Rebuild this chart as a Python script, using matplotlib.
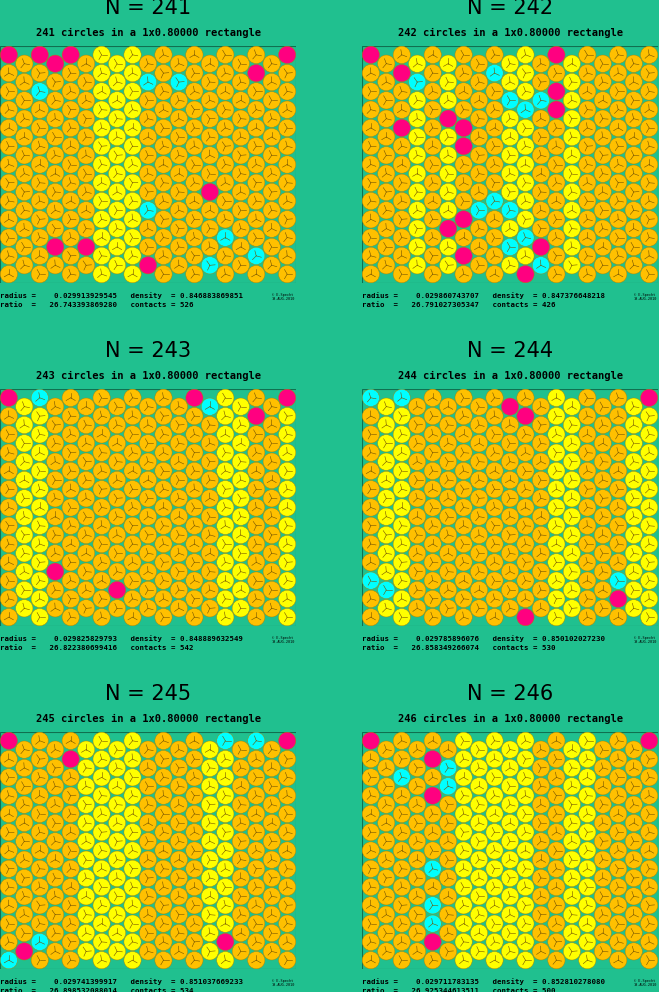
import numpy as np
import matplotlib.pyplot as plt
from matplotlib.patches import Circle, Rectangle

# panel data
n_list = [241, 242, 243, 244, 245, 246]
radius = [0.029913929545, 0.029860743707, 0.029825829793, 0.029785896076, 0.029741399917, 0.029711783135]
ratio = [26.743393869280, 26.791027305347, 26.822380699416, 26.858349266074, 26.898532088014, 26.925344613511]
density = [0.846883869851, 0.847376648218, 0.848889632549, 0.850102027230, 0.851037669233, 0.852810278080]
contacts = [526, 426, 542, 530, 534, 500]
# columns drawn yellow in each panel (approximate)
yellow_cols = [[6, 7, 8], [3, 5, 9, 10, 13], [1, 2, 14, 15, 18], [1, 2, 12, 13, 17, 18], [5, 6, 7, 8, 13, 14], [6, 7, 8, 9, 10, 13, 14]]
# (column, row) of rattlers (magenta) and cyan circles
magenta = [[(0, 12), (2, 12), (3, 12), (3, 11), (4, 12), (16, 11), (18, 12), (3, 1), (5, 1), (9, 0), (13, 4)],
           [(0, 12), (2, 11), (2, 8), (5, 8), (6, 7), (6, 8), (6, 3), (5, 2), (6, 1), (12, 12), (12, 9), (12, 10), (11, 1), (10, 0)],
           [(0, 12), (12, 12), (16, 11), (18, 12), (3, 2), (7, 1)],
           [(18, 12), (9, 11), (10, 11), (16, 1), (10, 0)],
           [(0, 12), (4, 11), (17, 12), (18, 12), (1, 0), (14, 1)],
           [(0, 12), (4, 11), (4, 9), (18, 12), (4, 1)]]
cyan = [[(1, 12), (2, 10), (9, 10), (11, 10), (9, 3), (14, 2), (16, 1), (13, 0)],
        [(1, 12), (3, 10), (8, 11), (9, 9), (10, 9), (11, 9), (8, 4), (7, 3), (9, 3), (10, 2), (9, 1), (11, 0)],
        [(2, 12), (13, 11)],
        [(0, 12), (2, 12), (0, 2), (1, 1), (16, 2)],
        [(14, 12), (16, 12), (2, 1), (0, 0)],
        [(2, 10), (5, 10), (5, 9), (4, 5), (4, 3), (4, 2)]]

BG = '#20C08F'
W, H = 659, 992
fig = plt.figure(figsize=(W / 100, H / 100), dpi=100)
fig.patch.set_facecolor(BG)

for k in range(6):
    col, row = k % 2, k // 2
    x0 = 0 if col == 0 else 362
    y0 = row * 343
    r = radius[k]
    ax = fig.add_axes([x0 / W, 1 - (y0 + 283) / H, 296 / W, 237 / H])
    ax.set_xlim(0, 1)
    ax.set_ylim(0, 0.8)
    ax.axis('off')
    ax.add_patch(Rectangle((0, 0), 1, 0.8, fc=BG, ec='#107050', lw=0.8))
    counts = [13 if c % 2 == 0 else 12 for c in range(19)]
    dx = (1 - 2 * r) / 18
    for c in range(19):
        cx = r + c * dx
        if counts[c] == 13:
            ys = np.linspace(r, 0.8 - r, 13)
        else:
            ys = np.linspace(2 * r, 0.8 - 2 * r, 12)
        for j, cy in enumerate(ys):
            fc = '#FFC000'
            if c in yellow_cols[k]:
                fc = '#FFFF00'
            if (c, j) in magenta[k]:
                fc = '#FF0080'
            elif (c, j) in cyan[k]:
                fc = '#00FFFF'
            ax.add_patch(Circle((cx, cy), r * 0.98, fc=fc, ec='#B08000', lw=0.3))
            if fc != '#FF0080':
                for a in (90, 210, 330):
                    t = np.deg2rad(a + 15 * (c + j) % 40)
                    ax.plot([cx, cx + 0.6 * r * np.cos(t)], [cy, cy + 0.6 * r * np.sin(t)], color='#705000', lw=0.4)

    cxp = (x0 + 148) / W
    fig.text(cxp, 1 - (y0 + 8) / H, f'N = {n_list[k]}', ha='center', va='center', fontsize=15)
    fig.text(cxp, 1 - (y0 + 33) / H, f'{n_list[k]} circles in a 1x0.80000 rectangle',
             ha='center', va='center', family='monospace', fontweight='bold', fontsize=7.5)
    fig.text(x0 / W, 1 - (y0 + 296) / H, f'radius =    {r:.12f}   density  = {density[k]:.12f}',
             ha='left', va='center', family='monospace', fontweight='bold', fontsize=5.3)
    fig.text(x0 / W, 1 - (y0 + 305) / H, f'ratio  =   {ratio[k]:.12f}   contacts = {contacts[k]}',
             ha='left', va='center', family='monospace', fontweight='bold', fontsize=5.3)
    fig.text((x0 + 283) / W, 1 - (y0 + 297) / H, '© E.Specht\n19-AUG-2010', ha='center', va='center',
             family='monospace', fontsize=2.5)

fig.savefig('out.png', dpi=100, facecolor=BG)
